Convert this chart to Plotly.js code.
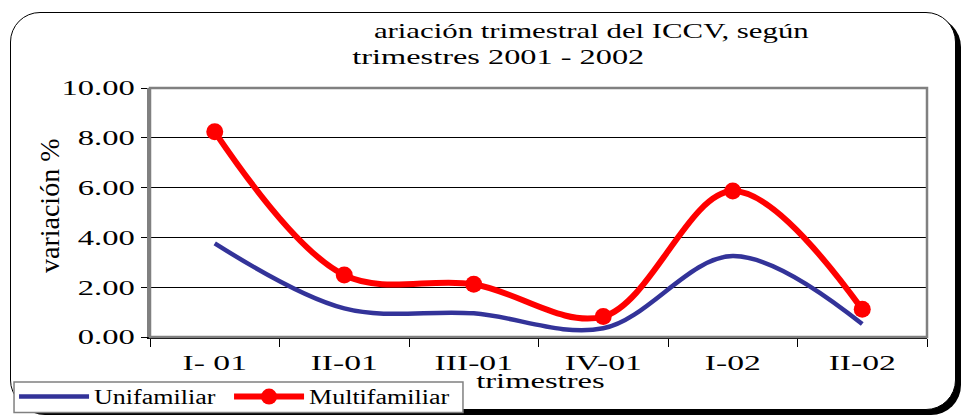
<!DOCTYPE html>
<html>
<head>
<meta charset="utf-8">
<script src="https://cdn.plot.ly/plotly-3.0.1.min.js"></script>
<style>
  html, body { margin: 0; padding: 0; background: #ffffff; }
  #wrap { position: relative; width: 962px; height: 418px; overflow: hidden; }
  #frame { position: absolute; left: 10px; top: 12px; width: 944px; height: 396px;
           border: 1.5px solid #000; border-radius: 30px; box-shadow: 5px 5px 0 #000; background: #fff; }
  #chart { position: absolute; left: 0; top: 0; width: 962px; height: 418px; }
</style>
</head>
<body>
<div id="wrap">
  <div id="frame"></div>
  <div id="chart"></div>
</div>
<script>
// ---- data ----
const categories = ["I- 01", "II-01", "III-01", "IV-01", "I-02", "II-02"];
const unifamiliar = [3.76, 1.15, 0.95, 0.35, 3.25, 0.52];
const multifamiliar = [8.24, 2.49, 2.12, 0.82, 5.86, 1.11];
const yTickVals = [0, 2, 4, 6, 8, 10];
const titleLines = ["ariación trimestral del ICCV, según", "trimestres 2001 - 2002"];
const xTitle = "trimestres";
const yTitle = "variación %";
const seriesNames = ["Unifamiliar", "Multifamiliar"];

const serif = "'Liberation Serif', 'Times New Roman', 'DejaVu Serif', serif";

const traces = [
  {
    x: categories, y: unifamiliar, name: seriesNames[0], type: "scatter", mode: "lines",
    line: { color: "#333399", width: 4.5, shape: "spline", smoothing: 1 }
  },
  {
    x: categories, y: multifamiliar, name: seriesNames[1], type: "scatter", mode: "lines+markers",
    line: { color: "#FF0000", width: 6, shape: "spline", smoothing: 1 },
    marker: { color: "#FF0000", size: 17, symbol: "circle" }
  }
];

const layout = {
  width: 962, height: 418,
  margin: { l: 150, r: 35, t: 88, b: 81, autoexpand: false },
  paper_bgcolor: "rgba(0,0,0,0)",
  plot_bgcolor: "#ffffff",
  showlegend: true,
  font: { family: serif, color: "#000", size: 21 },
  xaxis: {
    type: "category", range: [-0.5, 5.5], tickson: "boundaries", automargin: false,
    ticks: "outside", ticklen: 8, tickcolor: "#000", tickwidth: 1,
    showline: true, linecolor: "#000", linewidth: 1.5,
    showgrid: false, zeroline: false,
    tickfont: { family: serif, size: 21, color: "#000" },
    ticklabelstandoff: 6
  },
  yaxis: {
    range: [0, 10], tickvals: yTickVals, tickformat: ".2f", automargin: false,
    ticks: "outside", ticklen: 6, tickcolor: "#000", tickwidth: 1,
    showline: true, linecolor: "#808080", linewidth: 3,
    showgrid: true, gridcolor: "#000", gridwidth: 1, zeroline: false,
    tickfont: { family: serif, size: 21, color: "#000" },
    ticklabelstandoff: 2
  },
  shapes: [
    { type: "rect", xref: "paper", yref: "paper", x0: 0, x1: 1, y0: 0, y1: 1,
      line: { color: "#808080", width: 2.5 }, layer: "above" },
    { type: "rect", xref: "paper", yref: "paper", x0: -0.175, x1: 0.4028, y0: -0.303, y1: -0.181,
      line: { color: "#808080", width: 1.5 }, fillcolor: "#ffffff", layer: "above" }
  ],
  legend: {
    orientation: "h", xref: "container", yref: "container",
    x: 0.0146, xanchor: "left", y: 0.098, yanchor: "top",
    bgcolor: "rgba(0,0,0,0)", borderwidth: 0,
    font: { family: serif, size: 20, color: "#000" },
    entrywidth: 130, itemwidth: 70, tracegroupgap: 0
  },
  annotations: [
    { text: titleLines[0], xref: "paper", yref: "paper", x: 0.568, y: 1.229,
      xanchor: "center", yanchor: "middle", showarrow: false,
      font: { family: serif, size: 22, color: "#000" } },
    { text: titleLines[1], xref: "paper", yref: "paper", x: 0.4485, y: 1.1285,
      xanchor: "center", yanchor: "middle", showarrow: false,
      font: { family: serif, size: 22, color: "#000" } },
    { text: xTitle, xref: "paper", yref: "paper", x: 0.502, y: -0.177,
      xanchor: "center", yanchor: "middle", showarrow: false,
      font: { family: serif, size: 21, color: "#000" } },
    { text: yTitle, xref: "paper", yref: "paper", x: -0.13, y: 0.53,
      xanchor: "center", yanchor: "middle", showarrow: false, textangle: -90,
      font: { family: serif, size: 28, color: "#000" } }
  ]
};

function stretch(els, factor) {
  els.forEach(function (el) {
    try {
      const w = el.getComputedTextLength();
      if (w > 0) {
        el.setAttribute("textLength", (w * factor).toFixed(1));
        el.setAttribute("lengthAdjust", "spacingAndGlyphs");
      }
    } catch (e) {}
  });
}

Plotly.newPlot("chart", traces, layout, { staticPlot: true, displayModeBar: false }).then(function () {
  const root = document.getElementById("chart");
  stretch(root.querySelectorAll(".ytick text"), 1.55);
  stretch(root.querySelectorAll(".xtick text"), 1.6);
  stretch(root.querySelectorAll(".legendtext"), 1.3);
  root.querySelectorAll(".legend [clip-path], .legend").forEach(function (el) {
    el.removeAttribute("clip-path");
  });
  const ann = root.querySelectorAll(".annotation-text");
  const annFactors = [1.4, 1.47, 1.55, 1.0];
  ann.forEach(function (el, i) { stretch([el], annFactors[i]); });
});
</script>
</body>
</html>
